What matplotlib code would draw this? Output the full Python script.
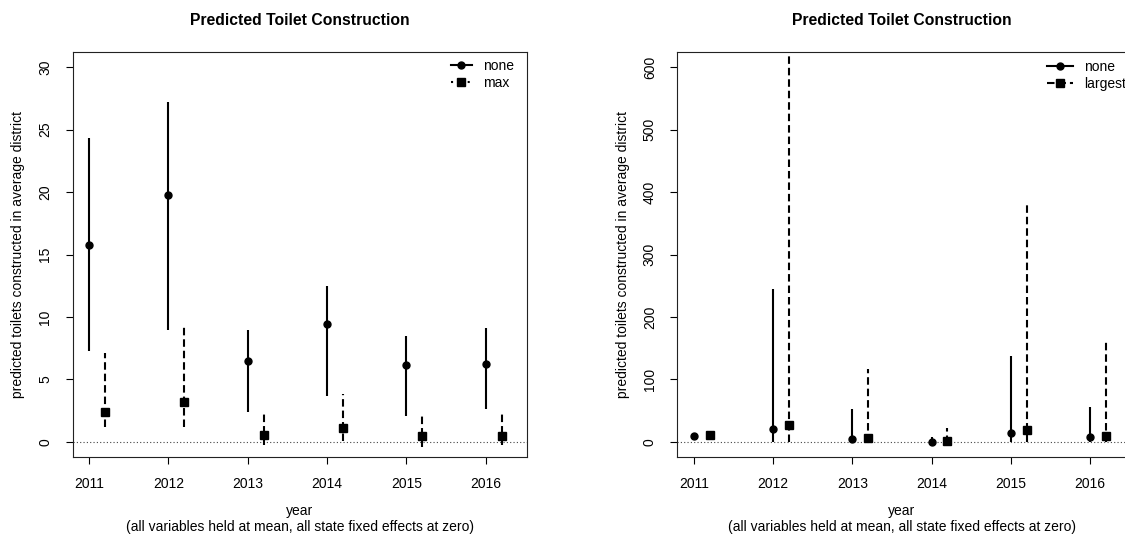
import numpy as np
import matplotlib
matplotlib.use("Agg")
import matplotlib.pyplot as plt
from matplotlib.lines import Line2D

plt.rcParams['font.family'] = ['Liberation Sans', 'DejaVu Sans']
plt.rcParams['font.size'] = 10

# predicted values and 95% intervals by year
years = np.array([2011, 2012, 2013, 2014, 2015, 2016])

# panel 1: no subsidy vs maximum subsidy
p1_none_est = [15.73, 19.73, 6.45, 9.41, 6.13, 6.21]
p1_none_lo = [7.25, 8.93, 2.40, 3.68, 2.08, 2.59]
p1_none_hi = [24.30, 27.25, 8.93, 12.45, 8.45, 9.12]
p1_max_est = [2.35, 3.15, 0.51, 1.07, 0.43, 0.43]
p1_max_lo = [1.15, 1.15, -0.27, 0.02, -0.40, -0.27]
p1_max_hi = [7.12, 9.31, 2.40, 3.79, 2.32, 2.45]

# panel 2: no subsidy vs largest subsidy
p2_none_est = [9.0, 20.8, 4.3, -1.0, 14.4, 8.0]
p2_none_lo = [5.0, 0.0, 0.0, -3.0, 0.0, 0.0]
p2_none_hi = [14.0, 244.0, 53.0, 8.0, 137.0, 56.0]
p2_big_est = [11.0, 26.2, 5.3, 0.6, 18.7, 9.6]
p2_big_lo = [6.0, 0.0, 0.0, -2.0, 0.0, 0.0]
p2_big_hi = [14.0, 619.0, 117.0, 22.0, 379.0, 160.0]

OFFSET = 0.2
DASH = (0, (3.6, 1.9))
LW = 1.5

W, H = 1125, 537
fig = plt.figure(figsize=(W / 100, H / 100), dpi=100)


def px_axes(x0, x1, y0, y1):
    return fig.add_axes([x0 / W, 1 - y1 / H, (x1 - x0) / W, (y1 - y0) / H])


def draw_panel(ax, none_est, none_lo, none_hi, alt_est, alt_lo, alt_hi,
               ylim, yticks, xlim):
    ax.axhline(0, color='#444444', lw=0.8, ls=(0, (1, 2)), zorder=1)
    for i, yr in enumerate(years):
        ax.plot([yr, yr], [none_lo[i], none_hi[i]], color='black', lw=LW,
                solid_capstyle='butt')
        ax.plot([yr + OFFSET, yr + OFFSET], [alt_lo[i], alt_hi[i]],
                color='black', lw=LW, ls=DASH)
    ax.plot(years, none_est, 'o', color='black', ms=5, ls='none', zorder=3)
    ax.plot(years + OFFSET, alt_est, 's', color='black', ms=5.5, ls='none', zorder=3)

    ax.set_xlim(*xlim)
    ax.set_ylim(*ylim)
    ax.set_xticks(years)
    ax.set_yticks(yticks)
    ax.tick_params(direction='out', length=5, width=0.8, pad=9.5, colors='black')
    for lab in ax.get_yticklabels():
        lab.set_rotation(90)
        lab.set_va('center')
        lab.set_ha('right')
    for sp in ax.spines.values():
        sp.set_linewidth(0.8)
        sp.set_color('#222222')

    ax.set_title('Predicted Toilet Construction', fontweight='bold',
                 fontsize=11.3, pad=20)
    ax.set_xlabel('year\n(all variables held at mean, all state fixed effects at zero)',
                  linespacing=1.15)
    ax.xaxis.set_label_coords(0.5, -0.118)
    ax.set_ylabel('predicted toilets constructed in average district')
    ax.yaxis.set_label_coords(-0.105, 0.5)


ax1 = px_axes(72.5, 526.5, 52.3, 456.7)
draw_panel(ax1, p1_none_est, p1_none_lo, p1_none_hi,
           p1_max_est, p1_max_lo, p1_max_hi,
           ylim=(-1.2, 31.2), yticks=range(0, 31, 5), xlim=(2010.79, 2016.515))

ax2 = px_axes(677, 1126.5, 52.3, 456.7)
draw_panel(ax2, p2_none_est, p2_none_lo, p2_none_hi,
           p2_big_est, p2_big_lo, p2_big_hi,
           ylim=(-24, 624), yticks=range(0, 601, 100), xlim=(2010.785, 2016.46))

none_handle = Line2D([], [], color='black', lw=LW, marker='o', ms=5)
max_handle = Line2D([], [], color='black', lw=LW, ls=(0, (1, 3)), marker='s', ms=5.5)
big_handle = Line2D([], [], color='black', lw=LW, ls=DASH, marker='s', ms=5.5)

leg_kw = dict(loc='upper left', frameon=False, borderpad=0, borderaxespad=0,
              handletextpad=0.8, labelspacing=0.2,
              bbox_transform=fig.transFigure)
ax1.legend([none_handle, max_handle], ['none', 'max'], handlelength=1.5,
           bbox_to_anchor=(451 / W, 1 - 59 / H), **leg_kw)
ax2.legend([none_handle, big_handle], ['none', 'largest'], handlelength=1.9,
           bbox_to_anchor=(1047 / W, 1 - 60 / H), **leg_kw)

fig.savefig('out.png', dpi=100)
